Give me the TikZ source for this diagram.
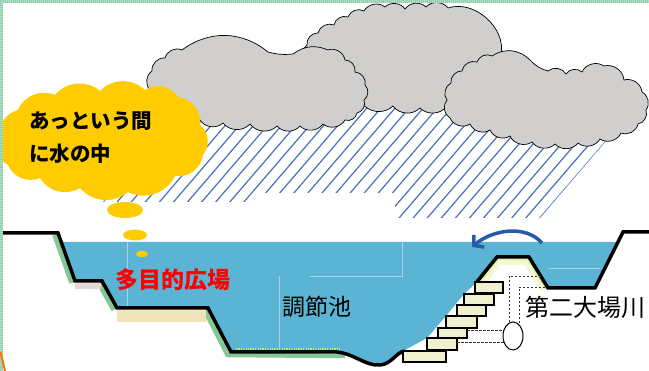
\documentclass[tikz,border=0pt]{standalone}
\usepackage{fontspec}
\newfontfamily\jpfont{Noto Sans CJK JP}
\usetikzlibrary{shapes.geometric,arrows.meta}

\definecolor{pondblue}{RGB}{92,180,212}
\definecolor{cloudgray}{RGB}{208,207,205}
\definecolor{rainblue}{RGB}{70,114,186}
\definecolor{bubbleyellow}{RGB}{255,204,0}
\definecolor{blockcream}{RGB}{240,240,206}
\definecolor{bankgreen}{RGB}{110,190,130}
\definecolor{framegreen}{RGB}{140,205,170}
\definecolor{arrowblue}{RGB}{40,90,170}
\definecolor{shelftan}{RGB}{240,228,184}
\definecolor{leveepale}{RGB}{232,242,180}
\definecolor{shadowpink}{RGB}{228,214,214}

\tikzstyle{ground}=[black, line width=3.5pt, line join=miter]
\tikzstyle{cloudline}=[draw=black, line width=0.7pt, fill=cloudgray]
\tikzstyle{bump}=[bend left=50]
\tikzstyle{rain}=[rainblue, line width=1.2pt]
\tikzstyle{pipe}=[black!80, line width=0.8pt, dash pattern=on 2.5pt off 1.5pt]
\tikzstyle{stepblock}=[draw=black, line width=1.5pt, fill=blockcream]
\tikzstyle{bank}=[bankgreen, line width=4.5pt, opacity=0.85]

\begin{document}
\begin{tikzpicture}[x=1pt, y=-1pt,
	label/.style={font=\jpfont\fontsize{23}{23}\selectfont, inner sep=0pt},
	flow/.style={arrowblue, line width=3.5pt, -{Straight Barb[length=7pt,width=16pt]}}
	]
	
	\useasboundingbox (0,0) rectangle (649,371);
	
	% Shading along the banks
	\draw[bank] (54.5,235) -- (71.5,283);
	\draw[bank] (98.5,283) -- (113.5,310);
	\draw[bank] (204.5,310) -- (227.5,355) -- (345,356);
	\fill[shelftan] (117,310) rectangle (206,322);
	\fill[shadowpink] (75,283) rectangle (101,289);
	
	% Water of the pond
	\fill[pondblue] (61,242) -- (618,242) -- (595,288) -- (548,288) -- (529,257) -- (497,257) -- (477,282) -- (464,294) -- (446,316) -- (427,338) -- (403,351) .. controls (396,352) and (392,364) .. (380,365) .. controls (365,366) and (355,354) .. (337,352) -- (231,352) -- (208,308) -- (117,308) -- (102,281) -- (75,281) -- cycle;
	\draw[pondblue!55!white, line width=0.5pt] (127,242) -- (127,308);
	\draw[pondblue!55!white, line width=0.5pt] (279,276) -- (279,352);
	\draw[pondblue!55!white, line width=0.5pt] (310,276) -- (402,276) -- (402,242);
	\draw[pondblue!55!white, line width=0.5pt] (548,268) -- (600,268);
	\draw[green!50!lime!60!white, line width=2pt, dash pattern=on 1.2pt off 1.2pt] (236,349) -- (340,349);
	
	% Levee, pale just inside its crest
	\begin{scope}
		\clip (476,283) -- (497,257) -- (529,257) -- (548,288) -- (520,300) -- (476,300) -- cycle;
		\draw[leveepale, line width=16pt, opacity=0.5] (476,283) -- (497,257) -- (529,257) -- (548,288);
		\draw[leveepale, line width=8pt] (476,283) -- (497,257) -- (529,257) -- (548,288);
	\end{scope}
	
	% Ground line
	\draw[ground] (3,233) -- (58,233) -- (75,281) -- (102,281) -- (117,308) -- (208,308) -- (231,352) -- (337,352) .. controls (355,354) and (365,366) .. (380,365) .. controls (392,364) and (396,352) .. (405,351);
	\draw[ground] (476,283) -- (497,257) -- (529,257) -- (548,288) -- (595,288) -- (623,232) -- (649,232);
	
	% Steps
	\foreach \xa/\xb/\ya/\yb in {403/446/351/362, 427/457/338/350, 438/467/328/338, 446/477/316/328, 457/486/305/316, 464/494/294/305, 475/503/282/293} {
		\draw[stepblock] (\xa,\ya) rectangle (\xb,\yb);
	}
	
	% Pipe and outlet
	\draw[pipe] (541,276) -- (509,276) -- (509,324);
	\draw[pipe] (545,287) -- (519,287) -- (519,325);
	\draw[pipe] (467,330) -- (505,330);
	\draw[pipe] (457,342) -- (505,342);
	\node[ellipse, draw, line width=1pt, fill=white, minimum width=20pt, minimum height=28pt, inner sep=0pt] (outlet) at (513,336) {};
	
	% Rain
	\begin{scope}
		\clip (103,202) -- (255,202) -- (255,193) -- (395,193) -- (395,218) -- (540,218) -- (641,100) -- (191,100) -- cycle;
		\foreach \i in {0,...,33} {
			\draw[rain] ({79+\i*14.08},230) -- ++(120.4,-140);
		}
	\end{scope}
	
	% Clouds, back to front
	\filldraw[cloudline] (305,62) to[bump] (307,45) to[bump] (318,33) to[bump] (334,25) to[bump] (348,17) to[bump] (364,11) to[bump] (385,7) to[bump] (405,9) to[bump] (426,7) to[bump] (448,8) to[bend left=60] (501,55) -- (500,95) to[bump] (475,104) to[bump] (447,106) to[bump] (420,108) to[bump] (393,106) to[bump] (362,103) -- (320,90) -- (305,62) -- cycle;
	\filldraw[cloudline] (150,90) to[bump] (152,71) to[bump] (165,58) to[bump] (182,50) to[bend left=38] (268,52) to[bend right=10] (293,54) to[bend left=30] (328,50) to[bump] (345,60) to[bump] (355,72) to[bump] (365,85) to[bump] (364,100) to[bump] (357,113) to[bump] (345,120) to[bump] (323,124) to[bump] (300,126) to[bump] (277,126) to[bump] (250,124) to[bump] (223,123) to[bump] (200,120) -- (160,110) -- (150,90) -- cycle;
	\filldraw[cloudline] (450,118) to[bump] (447,100) to[bump] (451,83) to[bump] (462,71) to[bump] (477,62) to[bump] (492,56) to[bend left=40] (530,60) to[bend right=15] (548,71) to[bump] (566,74) to[bump] (582,72) to[bump] (604,66) to[bump] (624,80) to[bump] (642,92) to[bump] (646,110) to[bump] (638,124) to[bump] (621,133) to[bump] (600,139) to[bump] (578,143) to[bump] (555,144) to[bump] (532,142) to[bump] (510,136) to[bump] (490,130) to[bump] (470,124) to[bump] (450,118) -- cycle;
	
	% Thought bubble
	\fill[bubbleyellow] (0,140) to[bend left=45] (18,110) to[bend left=45] (55,95) to[bend left=45] (100,91) to[bend left=45] (145,90) to[bend left=45] (178,97) to[bend left=45] (200,125) to[bend left=45] (203,155) to[bend left=45] (175,176) to[bend left=45] (128,192) to[bend left=45] (80,188) to[bend left=45] (40,178) to[bend left=45] (8,165) to[bend left=45] (0,140) -- cycle;
	\fill[bubbleyellow] (125,210) ellipse (18 and 8);
	\fill[bubbleyellow] (135,235) ellipse (12 and 5.5);
	\fill[bubbleyellow] (142,254) ellipse (6 and 3);
	\node[label, font=\jpfont\bfseries\fontsize{20.5}{33}\selectfont, align=left, anchor=west] (thought) at (29,138) {あっという間\\に水の中};
	
	% Labels
	\node[label, text=red, font=\jpfont\bfseries\fontsize{23}{23}\selectfont] (plaza) at (173,280) {多目的広場};
	\node[label] (pond) at (317,307) {調節池};
	\node[label, font=\jpfont\fontsize{24}{24}\selectfont] (river) at (585,307) {第二大場川};
	
	% Back flow over the levee
	\coordinate (flowstart) at (542,243);
	\coordinate (flowend) at (472,247);
	\draw[flow] (flowstart) .. controls (525,224) and (492,230) .. (flowend);
	
	% Frame
	\draw[framegreen, line width=3pt] (1.5,371) -- (1.5,1.5) -- (649,1.5);
	\draw[white, line width=3pt, opacity=0.35, dash pattern=on 1pt off 1pt] (1.5,371) -- (1.5,1.5) -- (649,1.5);
	\draw[orange!90!red, line width=2pt] (0.5,352) -- (5,371);
	
\end{tikzpicture}
\end{document}
